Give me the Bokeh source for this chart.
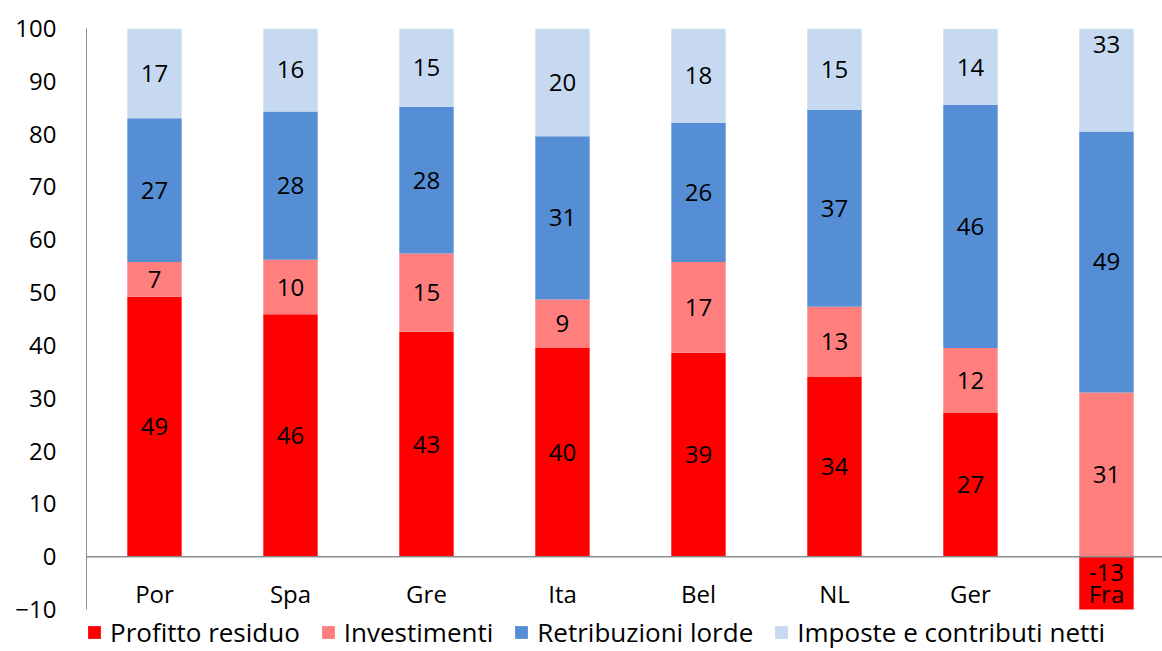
from bokeh.plotting import figure
from bokeh.models import ColumnDataSource, Range1d, FixedTicker, Span, Legend, LegendItem
from bokeh.core.properties import value
from bokeh.embed import file_html
from bokeh.resources import INLINE

countries = ["Por", "Spa", "Gre", "Ita", "Bel", "NL", "Ger", "Fra"]
profitto = [49.2, 45.9, 42.6, 39.6, 38.6, 34.1, 27.3, -13.0]
investimenti = [6.6, 10.3, 14.8, 9.1, 17.2, 13.2, 12.2, 31.1]
retribuzioni = [27.2, 28.1, 27.8, 30.9, 26.3, 37.3, 46.0, 49.4]
imposte = [17.0, 15.7, 14.8, 20.4, 17.9, 15.4, 14.4, 32.9]
y_ticks = [-10, 0, 10, 20, 30, 40, 50, 60, 70, 80, 90, 100]

series = [
    ("Profitto residuo", profitto, "#FF0000"),
    ("Investimenti", investimenti, "#FF7F7F"),
    ("Retribuzioni lorde", retribuzioni, "#558ED5"),
    ("Imposte e contributi netti", imposte, "#C6D9F1"),
]

FONT = "Open Sans"
FS = "24px"
YMIN, YMAX = -10, 100
n = len(countries)
xs = list(range(n))

# frame extends below the axis minimum to host the legend
p = figure(frame_width=1076, frame_height=623,
           x_range=Range1d(-0.5, 7.412), y_range=Range1d(-17.95, YMAX),
           output_backend="svg", toolbar_location=None, x_axis_location=None,
           min_border_left=86, min_border_right=0, min_border_top=28, min_border_bottom=0)
p.outline_line_color = None
p.xgrid.grid_line_color = None
p.ygrid.grid_line_color = None

p.yaxis.ticker = FixedTicker(ticks=y_ticks)
p.yaxis.bounds = (YMIN, YMAX)
p.yaxis.major_tick_line_color = None
p.yaxis.minor_tick_line_color = None
p.yaxis.major_tick_out = 0
p.yaxis.major_tick_in = 0
p.yaxis.major_label_standoff = 30
p.yaxis.axis_line_color = "#8C8C8C"
p.yaxis.major_label_text_font = FONT
p.yaxis.major_label_text_font_size = FS
p.yaxis.major_label_text_color = "black"

pos_base = [0.0] * n
neg_base = [0.0] * n
items = []
lab_x, lab_y, lab_t = [], [], []
for name, vals, color in series:
    bottoms, tops = [], []
    for i, v in enumerate(vals):
        if v >= 0:
            b = pos_base[i]; t = b + v; pos_base[i] = t
        else:
            t = neg_base[i]; b = t + v; neg_base[i] = b
        # bars are cut at the axis limits, as in the reference
        bottoms.append(max(b, YMIN)); tops.append(min(t, YMAX))
        c = (b + t) / 2
        if c < YMIN + 7:
            c = YMIN + 7
        lab_x.append(i); lab_y.append(c); lab_t.append(f"{v:.0f}")
    src = ColumnDataSource(dict(x=xs, bottom=bottoms, top=tops))
    r = p.vbar(x="x", bottom="bottom", top="top", width=0.40, source=src,
               fill_color=color, line_color=None)
    items.append(LegendItem(label=name, renderers=[r]))

p.add_layout(Span(location=0, dimension="width", line_color="#8C8C8C", line_width=1.5))

p.text(x=lab_x, y=lab_y, text=lab_t, text_align="center", text_baseline="middle",
       text_font=value(FONT), text_font_size=FS, text_color="black")

p.text(x=xs, y=[-7.0] * n, text=countries, text_align="center", text_baseline="middle",
       text_font=value(FONT), text_font_size=FS, text_color="black")

legend = Legend(items=items, orientation="horizontal", location=(0, 1),
                label_text_font=FONT, label_text_font_size="26px", label_text_color="black",
                glyph_width=16, glyph_height=16, spacing=20, label_standoff=8,
                padding=0, margin=0, border_line_color=None, background_fill_alpha=0)
p.add_layout(legend)

open("out.html", "w").write(file_html(p, INLINE))
